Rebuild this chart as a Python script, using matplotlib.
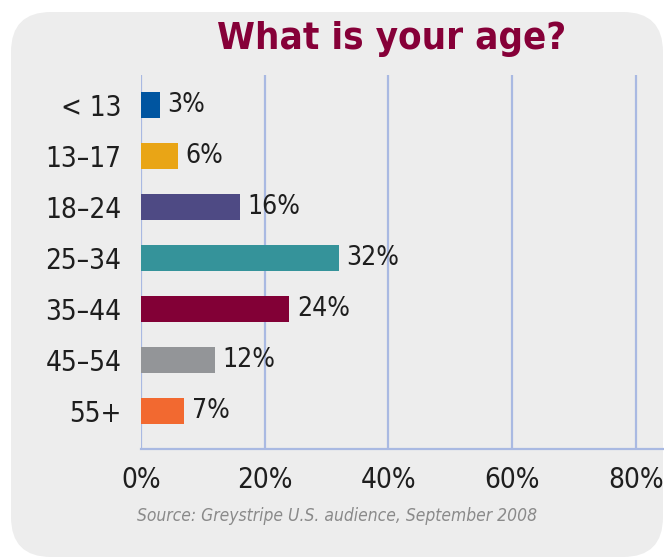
#!/usr/bin/env python3
"""Horizontal bar chart: audience age breakdown."""

import matplotlib
matplotlib.use("Agg")
import matplotlib.pyplot as plt
from matplotlib.patches import FancyBboxPatch
from matplotlib import font_manager

age_groups = ["< 13", "13\u201317", "18\u201324", "25\u201334", "35\u201344", "45\u201354", "55+"]
shares = [3, 6, 16, 32, 24, 12, 7]
bar_colors = ["#0055a0", "#e9a516", "#4e4a84", "#35939a", "#820036", "#939598", "#f26930"]
tick_values = [0, 20, 40, 60, 80]
tick_labels = ["0%", "20%", "40%", "60%", "80%"]

title = "What is your age?"
source = "Source: Greystripe U.S. audience, September 2008"

# narrowest face on hand
condensed = any(f.name == "DejaVu Sans" and f.stretch in ("condensed", 600)
                for f in font_manager.fontManager.ttflist)
FONT = ["DejaVu Sans"] if condensed else ["Liberation Sans", "DejaVu Sans"]
STRETCH = "condensed"
GRID = "#a9b9e2"
TEXT = "#1e1e1e"

W, H = 664, 558
fig = plt.figure(figsize=(W / 100, H / 100), dpi=100)
fig.patch.set_facecolor("white")

# rounded grey panel behind everything, in pixel units
bg = fig.add_axes([0, 0, 1, 1])
bg.set_xlim(0, W)
bg.set_ylim(H, 0)
bg.axis("off")
bg.add_patch(FancyBboxPatch((11, 12), 652, 545,
                            boxstyle="round,pad=0,rounding_size=40",
                            facecolor="#ededed", edgecolor="none"))

ax = fig.add_axes([141 / W, 1 - 449 / H, 1 - 141 / W, (449 - 75) / H])
ax.set_facecolor("none")

ypos = list(range(len(age_groups)))
ax.barh(ypos, shares, height=0.51, color=bar_colors, zorder=3)

for y, v in zip(ypos, shares):
    ax.annotate(f"{v}%", (v, y), xytext=(5.5, 0), textcoords="offset points",
                va="center", ha="left", fontsize=19, color=TEXT,
                family=FONT, fontstretch=STRETCH, zorder=4)

ax.set_xlim(0, 84.6)
ax.set_ylim(6.745, -0.59)

for x in tick_values:
    ax.axvline(x, color=GRID, lw=1.6, zorder=1)

for side in ["top", "right", "left"]:
    ax.spines[side].set_visible(False)
ax.spines["bottom"].set_color(GRID)
ax.spines["bottom"].set_linewidth(1.6)

ax.set_xticks(tick_values)
ax.set_xticklabels(tick_labels, fontsize=20, color=TEXT, family=FONT, fontstretch=STRETCH)
ax.set_yticks(ypos)
ax.set_yticklabels(age_groups, fontsize=20, color=TEXT, family=FONT, fontstretch=STRETCH)
ax.tick_params(axis="x", length=0, pad=12)
ax.tick_params(axis="y", length=0, pad=14)

fig.text(392 / W, 1 - 39 / H, title, ha="center", va="center",
         fontsize=27.5, fontweight="bold", color="#860038", family=FONT, fontstretch=STRETCH)
fig.text(137 / W, 1 - 516 / H, source, ha="left", va="center",
         fontsize=12.5, style="italic", color="#8a8a8a", family=FONT, fontstretch=STRETCH)

fig.savefig("out.png", dpi=100)
